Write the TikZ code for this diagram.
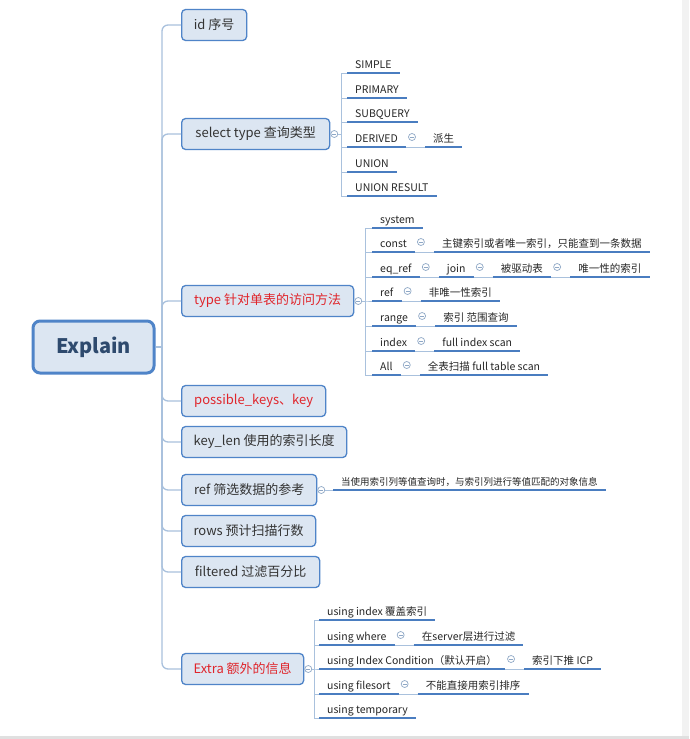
\documentclass[tikz,border=0pt]{standalone}
\usepackage{fontspec}
\setmainfont{Noto Sans CJK SC}
\usetikzlibrary{positioning, calc}
\definecolor{boxfill}{HTML}{DCE6F2}
\definecolor{boxline}{HTML}{4F84C8}
\definecolor{ulcol}{HTML}{4A7DC0}
\definecolor{trunkc}{HTML}{A9C1DD}
\definecolor{dotc}{HTML}{8FA8C6}
\definecolor{redtxt}{HTML}{E0252B}
\definecolor{roottxt}{HTML}{2E4A6E}

\begin{document}
\begin{tikzpicture}[x=1pt, y=1pt,
    rootbox/.style={rectangle, draw=boxline, line width=3pt, rounded corners=7pt, fill=boxfill, minimum width=121pt, minimum height=52pt, font=\fontsize{20}{24}\selectfont\bfseries, text=roottxt},
    topic/.style={rectangle, draw=boxline, line width=1.3pt, rounded corners=4pt, fill=boxfill, minimum height=31pt, minimum width=#1, anchor=west, font=\fontsize{13}{16}\selectfont, text=black!80, inner xsep=11pt},
    hot/.style={topic=#1, text=redtxt},
    leaf/.style={anchor=south west, inner xsep=8pt, inner ysep=3pt, text depth=1pt, font=\fontsize{10.5}{12}\selectfont, text=black!85, append after command={(\tikzlastnode.south west) edge[uline] (\tikzlastnode.south east)}},
    chain/.style={right=19pt of #1.south east, anchor=south west},
    uline/.style={draw=ulcol, line width=2pt},
    trunk/.style={draw=trunkc, line width=1.3pt, rounded corners=6pt},
    fork/.style={draw=trunkc, line width=1pt},
    link/.style={draw=trunkc, line width=1pt},
    dot/.style={circle, draw=dotc, fill=white, line width=0.7pt, minimum size=7pt, inner sep=0pt, path picture={\draw[dotc, line width=0.7pt] ([xshift=-2pt]path picture bounding box.center) -- ([xshift=2pt]path picture bounding box.center);}}
]
% canvas
\fill[white] (0,0) rectangle (689,-739);
\fill[black!5] (682,0) rectangle (689,-739);
\fill[black!12] (0,-736) rectangle (689,-739);

% root and first level
\node[rootbox] (root) at (93.5,-347) {Explain};
\node[topic=65pt] (id) at (181,-25) {id 序号};
\node[topic=148pt] (sel) at (181,-134) {select type 查询类型};
\node[hot=172pt] (type) at (181,-301) {type 针对单表的访问方法};
\node[hot=144pt] (poss) at (181,-401) {possible\_keys、key};
\node[topic=165pt] (klen) at (181,-442) {key\_len 使用的索引长度};
\node[topic=135pt] (ref) at (181,-490) {ref 筛选数据的参考};
\node[topic=134pt] (rows) at (181,-531) {rows 预计扫描行数};
\node[topic=138pt] (filt) at (181,-572) {filtered 过滤百分比};
\node[hot=122pt] (extra) at (181,-669) {Extra 额外的信息};

\coordinate (hub) at (162,-347);
\draw[trunk] (root.east) -- (hub);
\foreach \t in {id,sel,type,poss,klen,ref,rows,filt,extra}
    \draw[trunk] (hub) |- (\t.west);

% select type
\node[dot] (seld) at ([xshift=4pt]sel.east) {};
\node[leaf] (simple) at (347,-73) {SIMPLE};
\node[leaf] (primary) at (347,-98) {PRIMARY};
\node[leaf] (subq) at (347,-122) {SUBQUERY};
\node[leaf] (derived) at (347,-147) {DERIVED};
\node[leaf] (union) at (347,-172) {UNION};
\node[leaf] (ures) at (347,-196) {UNION RESULT};
\node[leaf, chain=derived] (paisheng) {派生};
\node[dot] at ($(derived.south east)+(6,10)$) {};
\draw[link] (derived.south east) -- (paisheng.south west);
\foreach \c in {simple,primary,subq,derived,union,ures}
    \draw[fork] (seld.east) -- ++(3,0) |- (\c.south west);

% type
\node[dot] (typed) at ([xshift=4pt]type.east) {};
\node[leaf] (system) at (372,-228) {system};
\node[leaf] (const) at (372,-252) {const};
\node[leaf] (eqref) at (372,-277) {eq\_ref};
\node[leaf] (tref) at (372,-301) {ref};
\node[leaf] (range) at (372,-326) {range};
\node[leaf] (index) at (372,-351) {index};
\node[leaf] (all) at (372,-375) {All};
\node[leaf, chain=const] (constv) {主键索引或者唯一索引，只能查到一条数据};
\node[leaf, chain=eqref] (join) {join};
\node[leaf, chain=join] (driven) {被驱动表};
\node[leaf, chain=driven] (uniq) {唯一性的索引};
\node[leaf, chain=tref] (trefv) {非唯一性索引};
\node[leaf, chain=range] (rangev) {索引 范围查询};
\node[leaf, chain=index] (indexv) {full index scan};
\node[leaf, chain=all] (allv) {全表扫描 full table scan};
\foreach \a/\b in {const/constv,eqref/join,join/driven,driven/uniq,tref/trefv,range/rangev,index/indexv,all/allv}{
    \node[dot] at ($(\a.south east)+(6,10)$) {};
    \draw[link] (\a.south east) -- (\b.south west);
}
\foreach \c in {system,const,eqref,tref,range,index,all}
    \draw[fork] (typed.east) -- ++(3,0) |- (\c.south west);

% ref
\node[dot] (refd) at ([xshift=4pt]ref.east) {};
\node[leaf, font=\fontsize{9.5}{11}\selectfont] (refnote) at (333,-490) {当使用索引列等值查询时，与索引列进行等值匹配的对象信息};
\draw[fork] (refd.east) -- (refnote.south west);

% extra
\node[dot] (extrad) at ([xshift=4pt]extra.east) {};
\node[leaf] (uidx) at (319,-620) {using index 覆盖索引};
\node[leaf] (uwhere) at (319,-645) {using where};
\node[leaf] (uicp) at (319,-669) {using Index Condition（默认开启）};
\node[leaf] (usort) at (319,-694) {using filesort};
\node[leaf] (utemp) at (319,-718) {using temporary};
\node[leaf, chain=uwhere] (uwherev) {在server层进行过滤};
\node[leaf, chain=uicp] (uicpv) {索引下推 ICP};
\node[leaf, chain=usort] (usortv) {不能直接用索引排序};
\foreach \a/\b in {uwhere/uwherev,uicp/uicpv,usort/usortv}{
    \node[dot] at ($(\a.south east)+(6,10)$) {};
    \draw[link] (\a.south east) -- (\b.south west);
}
\foreach \c in {uidx,uwhere,uicp,usort,utemp}
    \draw[fork] (extrad.east) -- ++(2,0) |- (\c.south west);
\end{tikzpicture}
\end{document}
